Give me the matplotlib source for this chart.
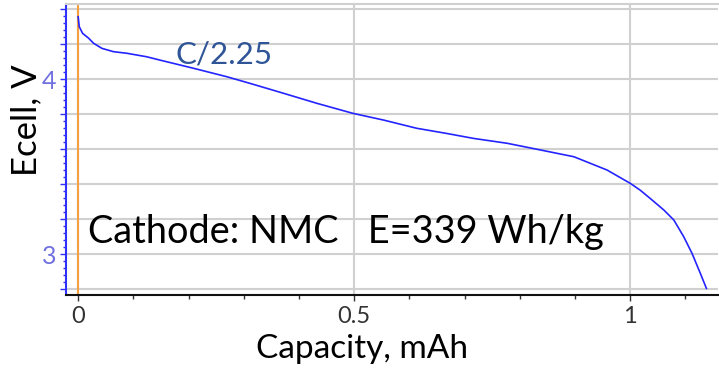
import numpy as np
import matplotlib
matplotlib.use("Agg")
import matplotlib.pyplot as plt
from matplotlib.ticker import MultipleLocator

plt.rcParams['font.family'] = ['Lato', 'DejaVu Sans']

# discharge curve
capacity = [0.0, 0.002, 0.008, 0.019, 0.028, 0.043, 0.064, 0.088, 0.124, 0.148,
            0.209, 0.269, 0.311, 0.372, 0.432, 0.498, 0.553, 0.613, 0.668,
            0.716, 0.777, 0.837, 0.898, 0.958, 1.0, 1.018, 1.036, 1.061,
            1.079, 1.097, 1.112, 1.127, 1.138]
ecell = [4.358, 4.301, 4.263, 4.235, 4.206, 4.177, 4.158, 4.149, 4.129, 4.11,
         4.063, 4.015, 3.977, 3.92, 3.863, 3.805, 3.767, 3.72, 3.69,
         3.662, 3.634, 3.596, 3.557, 3.481, 3.405, 3.366, 3.319, 3.252,
         3.195, 3.099, 3.004, 2.89, 2.804]

xticks = [0, 0.5, 1]
xtick_labels = ["0", "0.5", "1"]
ygrid = [2.8, 3.0, 3.2, 3.4, 3.6, 3.8, 4.0, 4.2, 4.4]
ytick_labels = {3.0: "3", 4.0: "4"}

fig = plt.figure(figsize=(7.19, 3.76), dpi=100)
ax = fig.add_axes([0.0918, 0.2154, 0.9068, 0.7736])

ax.plot(capacity, ecell, color="#2424ff", lw=1.2, zorder=3)
ax.axvline(0, color="#f5a040", lw=1.5, zorder=2)

ax.set_xlim(-0.022, 1.159)
ax.set_ylim(2.766, 4.43)

ax.set_xticks(xticks)
ax.set_xticklabels(xtick_labels)
ax.xaxis.set_minor_locator(MultipleLocator(0.1))
ax.set_yticks(ygrid)
ax.set_yticklabels([ytick_labels.get(round(v, 1), "") for v in ygrid])
ax.yaxis.set_minor_locator(MultipleLocator(0.04))

ax.grid(True, which="major", color="#d0d0d0", lw=1.5)
ax.set_axisbelow(True)

ax.tick_params(axis="x", which="major", length=4, width=1, color="#333333",
               labelsize=17, labelcolor="#333333", pad=4)
ax.tick_params(axis="x", which="minor", length=3, width=1, color="#333333")
ax.tick_params(axis="y", which="major", length=4, width=1, color="#3030ff",
               labelsize=18, labelcolor="#7070e0", pad=3)
ax.tick_params(axis="y", which="minor", length=2.5, width=1, color="#3030ff")

ax.spines["left"].set_color("#3030ff")
ax.spines["left"].set_linewidth(1.5)
ax.spines["bottom"].set_color("#111111")
ax.spines["bottom"].set_linewidth(1.5)
ax.spines["top"].set_color("#d0d0d0")
ax.spines["top"].set_linewidth(1.5)
ax.spines["right"].set_visible(False)

ax.set_xlabel("Capacity, mAh", fontsize=24, labelpad=0)
ax.xaxis.set_label_coords(0.454, -0.135)
ax.set_ylabel("Ecell, V", fontsize=25)
ax.yaxis.set_label_coords(-0.037, 0.60)

ax.text(0.176, 4.093, "C/2.25", color="#2f5597", fontsize=22.5)
ax.text(0.018, 3.063, "Cathode: NMC   E=339 Wh/kg", color="black", fontsize=27.3)

fig.savefig("out.png", dpi=100)
